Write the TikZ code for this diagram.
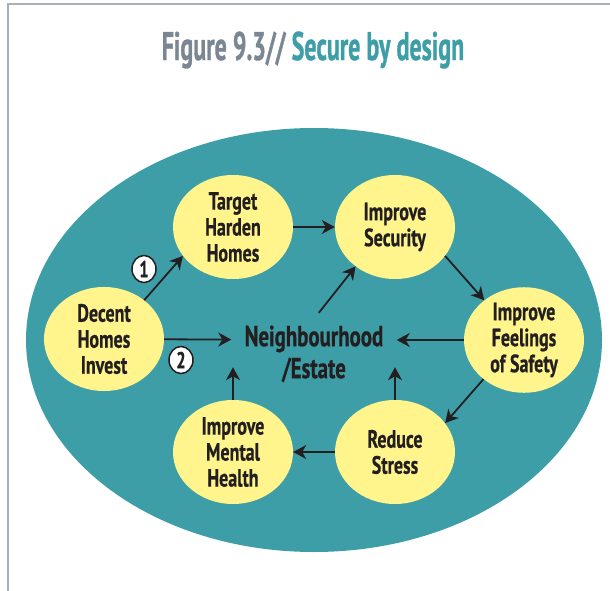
\documentclass[tikz,border=0pt]{standalone}
\usepackage{fontspec}
\newfontfamily\condfont[FakeStretch=0.72, FakeBold=0.6]{PT Sans}
\newfontfamily\titlefont[FakeStretch=0.6, FakeBold=0.8]{PT Sans}
\usetikzlibrary{shapes.geometric, arrows.meta, positioning}
\definecolor{seateal}{RGB}{62,158,168}
\definecolor{bulb}{RGB}{255,245,140}
\definecolor{figgray}{RGB}{122,134,146}
\definecolor{framegray}{RGB}{168,176,184}
\definecolor{ink}{RGB}{35,31,32}

\begin{document}
\begin{tikzpicture}[x=1pt, y=-1pt,
        every node/.style={text=ink, align=center,
          font=\condfont\bfseries\fontsize{25}{26}\selectfont},
        bubble/.style={ellipse, fill=bulb, minimum width=120pt,
          minimum height=104pt, inner sep=0pt},
        badge/.style={ellipse, draw=ink, fill=white, line width=1.5pt,
          minimum width=24pt, minimum height=27pt, inner sep=0pt,
          font=\condfont\bfseries\fontsize{23}{23}\selectfont},
        flow/.style={draw=ink, line width=1.8pt,
          -{Stealth[length=13pt, width=14pt, inset=4pt]}},
    ]
        \useasboundingbox (0,0) rectangle (610,591);
        \draw[framegray, line width=1.6pt] (610,4) -- (8,4) -- (8,591);
        \node[font=\titlefont\bfseries\fontsize{40}{40}\selectfont] (title) at (313,50)
          {\textcolor{figgray}{Figure 9.3//} \textcolor{seateal}{Secure by design}};

        \fill[seateal] (314,340) ellipse [x radius=288, y radius=212];

        \node[minimum width=165pt, minimum height=54pt, inner sep=0pt,
          font=\condfont\bfseries\fontsize{29}{32}\selectfont] (hub) at (314,340)
          {\raisebox{-22pt}[0pt][0pt]{\begin{tabular}{@{}c@{}}Neighbourhood\\/Estate\end{tabular}}};

        \node[bubble] (decent) at (104,339) {Decent\\Homes\\Invest};
        \node[bubble] (target) at (233,227) {Target\\Harden\\Homes};
        \node[bubble] (security) at (395,227) {Improve\\Security};
        \node[bubble] (safety) at (524,340) {Improve\\Feelings\\of Safety};
        \node[bubble] (stress) at (395,452) {Reduce\\Stress};
        \node[bubble] (mental) at (233,452) {Improve\\Mental\\Health};

        \draw[flow] (decent.44) -- (target.210);
        \draw[flow] (decent) -- (hub);
        \draw[flow] (target) -- (security);
        \draw[flow] (security.-30) -- (safety.135);
        \draw[flow] (safety) -- (hub);
        \draw[flow] (safety.224) -- (stress.30);
        \draw[flow] (stress) -- (mental);
        \draw[flow] (mental) -- (mental |- hub.south);
        \draw[flow] (stress) -- (stress |- hub.south);
        \draw[flow] (hub.80) -- (security.225);

        \node[badge] (one) at (144,269) {1};
        \node[badge] (two) at (181,360) {2};
    \end{tikzpicture}
\end{document}
